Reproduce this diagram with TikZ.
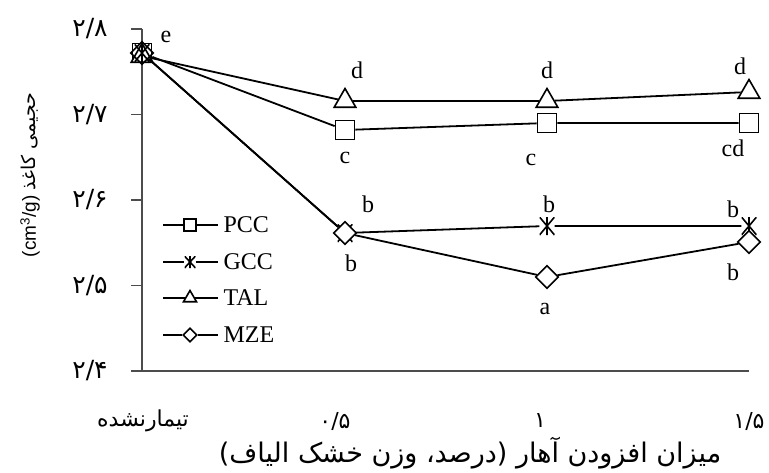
\documentclass[tikz,border=0pt]{standalone}
\usepackage{fontspec}
\setmainfont{Liberation Serif}
\newfontfamily\farsi[Script=Arabic]{DejaVu Sans}
\newfontfamily\axsans{Liberation Sans}
\TeXXeTstate=1
\usetikzlibrary{shapes.geometric}

\tikzset{
  mk/.style={draw=black,line width=1.6pt,inner sep=0pt},
  sq/.style={mk,rectangle,minimum size=19pt,fill=white},
  tri/.style={mk,regular polygon,regular polygon sides=3,minimum size=25pt,fill=white},
  dia/.style={mk,diamond,minimum size=23pt,fill=white},
  ast/.style={inner sep=0pt,minimum width=15pt,minimum height=18pt,
    path picture={\draw[line width=1.6pt]
      (path picture bounding box.north) -- (path picture bounding box.south)
      (path picture bounding box.north west) -- (path picture bounding box.south east)
      (path picture bounding box.north east) -- (path picture bounding box.south west);}},
  lsq/.style={sq,minimum size=12pt},
  last/.style={ast,minimum width=11pt,minimum height=12pt},
  ltri/.style={tri,minimum size=15pt},
  ldia/.style={dia,minimum size=14pt},
  ln/.style={draw=black,line width=1.8pt},
  axis/.style={draw=black!70,line width=1.6pt},
  fa/.style={font=\farsi\fontsize{22}{26}\selectfont}
}
\tikzstyle{every node}=[font=\fontsize{24}{28}\selectfont]

\begin{document}
\begin{tikzpicture}[x=1pt,y=-1pt]
    \useasboundingbox (0,0) rectangle (769,472);
    % axes
    \coordinate (T) at (142,29);
    \coordinate (O) at (142,371);
    \coordinate (R) at (749,371);
    \draw [axis] (T) -- (O) -- (R);
    \foreach \i/\y/\t in {0/29/{۲/۸},1/114.5/{۲/۷},2/200/{۲/۶},3/285.5/{۲/۵},4/371/{۲/۴}}{
      \coordinate (K\i) at (142,\y);
      \draw [axis] (K\i) -- ++(-11,0);
      \node [fa,font=\farsi\fontsize{25}{28}\selectfont] (Y\i) at (90,\y) {\t};
    }
    \node [fa] (X0) at (143,421) {\beginR تیمارنشده\endR};
    \node [fa] (X1) at (335,421) {۰/۵};
    \node [fa] (X2) at (540,421) {۱};
    \node [fa] (X3) at (749,421) {۱/۵};
    \node [fa,font=\farsi\fontsize{27}{30}\selectfont] (XT) at (470,453)
      {\beginR میزان افزودن آهار (درصد، وزن خشک الیاف)\endR};
    \node [rotate=90,font=\fontsize{19}{23}\selectfont] (YT) at (30,175)
      {\axsans(cm\textsuperscript{3}/g) \farsi\beginR حجیمی کاغذ\endR};

    % untreated point, shared by all series
    \node [sq,fill=none]  (P0) at (142,53) {};
    \node [tri,fill=none] (T0) at (142,56) {};
    \node [ast]           (G0) at (142,53) {};
    \node [dia,fill=none] (M0) at (142,53) {};

    % PCC
    \node [sq] (P1) at (345,130) {};
    \node [sq] (P2) at (547,123) {};
    \node [sq] (P3) at (749,123) {};
    \draw [ln] (P0) -- (P1) -- (P2) -- (P3);
    % TAL
    \node [tri] (T1) at (345,101) {};
    \node [tri] (T2) at (547,101) {};
    \node [tri] (T3) at (749,92) {};
    \draw [ln] (T0) -- (T1) -- (T2) -- (T3);
    % GCC
    \node [ast] (G1) at (345,233) {};
    \node [ast] (G2) at (547,226) {};
    \node [ast] (G3) at (749,226) {};
    \draw [ln] (G0) -- (G1) -- (G2) -- (G3);
    % MZE
    \node [dia] (M1) at (345,233) {};
    \node [dia] (M2) at (547,277) {};
    \node [dia] (M3) at (749,242) {};
    \draw [ln] (M0) -- (M1) -- (M2) -- (M3);

    % letters
    \node (e)  at (166,37)  {e};
    \node (d1) at (357,70)  {d};
    \node (d2) at (547,70)  {d};
    \node (d3) at (740,66)  {d};
    \node (c1) at (345,158) {c};
    \node (c2) at (531,160) {c};
    \node (c3) at (733,148) {cd};
    \node (b1) at (368,204) {b};
    \node (b2) at (549,204) {b};
    \node (b3) at (733,209) {b};
    \node (b4) at (351,263) {b};
    \node (a)  at (545,309) {a};
    \node (b5) at (733,272) {b};

    % legend
    \foreach \i/\y/\s/\n in {1/225/lsq/PCC,2/262/last/GCC,3/298/ltri/TAL,4/335/ldia/MZE}{
      \coordinate (La\i) at (163,\y);
      \coordinate (Lb\i) at (218,\y);
      \node [\s] (Lm\i) at (190,\y) {};
      \draw [ln] (La\i) -- (Lm\i) -- (Lb\i);
      \node [anchor=west] (Lt\i) at (220,\y) {\n};
    }
\end{tikzpicture}
\end{document}
